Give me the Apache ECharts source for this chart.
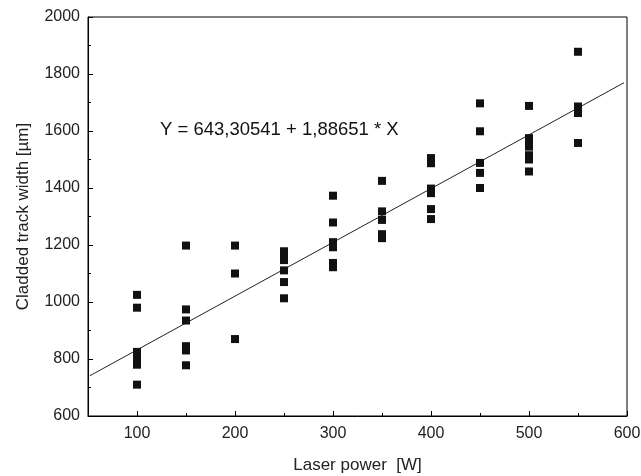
<!DOCTYPE html>
<html>
<head>
<meta charset="utf-8">
<script src="https://cdn.jsdelivr.net/npm/echarts@6/dist/echarts.min.js"></script>
<style>html,body{margin:0;padding:0;background:#fff}#c{width:641px;height:476px}</style>
</head>
<body>
<div id="c"></div>
<script>
const powers = [100, 150, 200, 250, 300, 350, 400, 450, 500, 550];
const widths = [
  [1025, 980, 825, 810, 795, 780, 710],
  [1198, 974, 935, 845, 830, 778],
  [1198, 1100, 870],
  [1178, 1162, 1147, 1111, 1070, 1013],
  [1373, 1279, 1210, 1192, 1137, 1122],
  [1425, 1318, 1288, 1238, 1224],
  [1505, 1487, 1398, 1382, 1326, 1291],
  [1697, 1599, 1488, 1453, 1400],
  [1688, 1575, 1560, 1545, 1515, 1500, 1458],
  [1878, 1686, 1674, 1663, 1558]
];
const intercept = 643.30541;
const slope = 1.88651;
const fitX = [52, 597];
const xMajor = [100, 200, 300, 400, 500, 600];
const xMinor = [150, 250, 350, 450, 550];

const scatterData = [];
powers.forEach((p, i) => widths[i].forEach(w => scatterData.push([p, w])));
const lineData = fitX.map(x => [x, intercept + slope * x]);

const chart = echarts.init(document.getElementById('c'));
const font = 'Liberation Sans, Arial, sans-serif';
chart.setOption({
  animation: false,
  grid: {left: 88, right: 14, top: 17, bottom: 60, show: true, borderColor: '#000', borderWidth: 1,
    containLabel: false, outerBoundsMode: 'none'},
  xAxis: [{
    type: 'value', min: 50, max: 600, interval: 50,
    name: 'Laser power  [W]', nameLocation: 'middle', nameGap: 41,
    nameTextStyle: {fontFamily: font, fontSize: 17, color: '#222'},
    axisLine: {lineStyle: {color: '#000', width: 1}},
    axisTick: {inside: true, length: 5, customValues: xMajor, lineStyle: {color: '#000'}},
    axisLabel: {fontFamily: font, fontSize: 16, color: '#222', margin: 10, customValues: xMajor,
      formatter: v => String(v)},
    splitLine: {show: false}
  }, {
    type: 'value', min: 50, max: 600, interval: 50, position: 'bottom',
    axisLine: {show: false},
    axisTick: {inside: true, length: 3, customValues: xMinor, lineStyle: {color: '#000'}},
    axisLabel: {show: false},
    splitLine: {show: false}
  }],
  yAxis: {
    type: 'value', min: 600, max: 2000, interval: 200,
    name: 'Cladded track width [µm]', nameLocation: 'middle', nameGap: 56,
    nameTextStyle: {fontFamily: font, fontSize: 17, color: '#222'},
    axisLine: {lineStyle: {color: '#000', width: 1}},
    axisTick: {inside: true, length: 5, lineStyle: {color: '#000'}},
    minorTick: {show: true, splitNumber: 2, length: 3, lineStyle: {color: '#000'}},
    axisLabel: {fontFamily: font, fontSize: 16, color: '#222', margin: 8, formatter: v => String(v)},
    splitLine: {show: false}
  },
  graphic: [{
    type: 'text', x: 160, y: 130,
    style: {text: 'Y = 643,30541 + 1,88651 * X', fontFamily: font, fontSize: 18.5, fill: '#111', verticalAlign: 'middle'}
  }],
  series: [
    {type: 'line', data: lineData, symbol: 'none', lineStyle: {color: '#222', width: 1}, silent: true, z: 1},
    {type: 'scatter', data: scatterData, symbol: 'rect', symbolSize: 8, itemStyle: {color: '#111', opacity: 1}, z: 2}
  ]
});
</script>
</body>
</html>
